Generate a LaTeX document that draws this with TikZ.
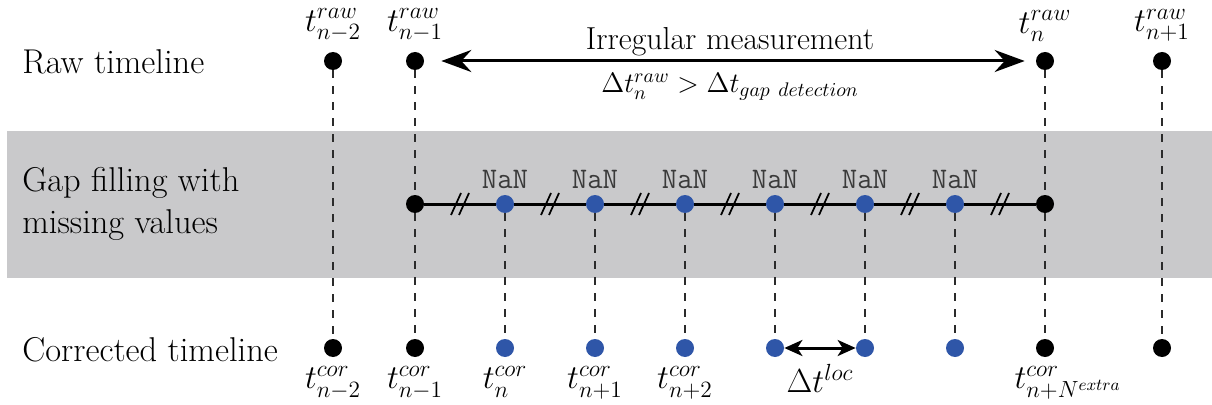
\RequirePackage{fix-cm}
\documentclass[tikz,border=0pt]{standalone}
\usetikzlibrary{arrows.meta,positioning,calc}
\definecolor{Band}{HTML}{C9C9CB}
\definecolor{NanBlue}{HTML}{2F56A8}
\definecolor{Dash}{HTML}{2B2B2B}
\definecolor{NanText}{HTML}{3A3A3A}
\tikzset{
  rowlabel/.style={anchor=west,align=left,inner sep=0,font=\fontsize{19.6}{23.5}\selectfont},
  tlabel/.style={inner sep=0,font=\fontsize{19}{23}\selectfont},
  nanlabel/.style={inner sep=0,text=NanText,font=\ttfamily\fontsize{17}{19}\selectfont},
  blackdot/.style={circle,fill=black,inner sep=0,minimum size=.36cm},
  bluedot/.style={circle,fill=NanBlue,inner sep=0,minimum size=.36cm},
  drop/.style={draw=Dash,line width=.04cm,dash pattern=on .16cm off .16cm},
  gapline/.style={draw=black,line width=.06cm},
  hashmark/.style={draw=black,line width=.035cm},
  measarrow/.style={{Stealth[length=6mm,width=4.4mm,inset=2mm]}-{Stealth[length=6mm,width=4.4mm,inset=2mm]},line width=.06cm},
  locarrow/.style={{Stealth[length=3.6mm,width=3.2mm,inset=1mm]}-{Stealth[length=3.6mm,width=3.2mm,inset=1mm]},line width=.06cm}
}
\begin{document}
\begin{tikzpicture}[x=.02cm,y=-.02cm]
  \useasboundingbox (0,0) rectangle (1212,405);
  \fill[Band] (7,131) rectangle (1212,278);

  % row titles
  \node[rowlabel] (rawtitle) at (22,62) {Raw timeline};
  \node[rowlabel] (gaptitle) at (22,204) {Gap filling with\\missing values};
  \node[rowlabel] (cortitle) at (22,350) {Corrected timeline};

  % raw timeline
  \node[blackdot] (ra) at (333,61) {};
  \node[blackdot] (rb) at (415,61) {};
  \node[blackdot] (rc) at (1045,61) {};
  \node[blackdot] (rd) at (1162,61) {};
  \node[tlabel,above=.2cm of ra] (tra) {$t^{raw}_{n-2}$};
  \node[tlabel,above=.2cm of rb] (trb) {$t^{raw}_{n-1}$};
  \node[tlabel,above=.2cm of rc] (trc) {$t^{raw}_{n}$};
  \node[tlabel,above=.2cm of rd] (trd) {$t^{raw}_{n+1}$};
  \draw[measarrow,shorten <=.34cm,shorten >=.22cm] (rb) --
    node[above=.07cm,font=\fontsize{18.1}{21}\selectfont,inner sep=0] (irr) {Irregular measurement}
    node[below=.22cm,font=\fontsize{16}{20}\selectfont,inner sep=0] (cond) {$\Delta t^{raw}_{n} > \Delta t_{gap\ detection}$} (rc);

  % gap filling
  \node[blackdot] (g0) at (415,204) {};
  \node[blackdot] (g7) at (1045,204) {};

  % corrected timeline
  \node[blackdot] (ka) at (333,348) {};
  \node[blackdot] (kb) at (415,348) {};
  \node[blackdot] (kc) at (1045,348) {};
  \node[blackdot] (kd) at (1162,348) {};
  \node[tlabel,below=.18cm of ka] (tka) {$t^{cor}_{n-2}$};
  \node[tlabel,below=.18cm of kb] (tkb) {$t^{cor}_{n-1}$};
  \node[tlabel,below=.18cm of kc,xshift=.46cm] (tkc) {$t^{cor}_{n+N^{extra}}$};

  \foreach \i in {1,...,6} {
    \node[bluedot] (g\i) at (415+90*\i,204) {};
    \node[bluedot] (k\i) at (415+90*\i,348) {};
    \node[nanlabel,above=.12cm of g\i] (nan\i) {NaN};
    \draw[drop] (g\i) -- (k\i);
  }
  \node[tlabel,below=.18cm of k1] (tk1) {$t^{cor}_{n}$};
  \node[tlabel,below=.18cm of k2] (tk2) {$t^{cor}_{n+1}$};
  \node[tlabel,below=.18cm of k3] (tk3) {$t^{cor}_{n+2}$};

  \draw[drop] (ra) -- (ka);
  \draw[drop] (rb) -- (g0);
  \draw[drop] (g0) -- (kb);
  \draw[drop] (rc) -- (g7);
  \draw[drop] (g7) -- (kc);
  \draw[drop] (rd) -- (kd);

  % gap line with breaks
  \foreach \i [count=\j from 0] in {1,...,7} {
    \draw[gapline] (g\j) -- (g\i);
    \draw[hashmark] ($(g\j)!.5!(g\i)$) ++(-4,0) +(-5,11) -- +(5,-11) ++(8,0) +(-5,11) -- +(5,-11);
  }

  \draw[locarrow] (k4) -- node[tlabel,below=.3cm] (dloc) {$\Delta t^{loc}$} (k5);
\end{tikzpicture}
\end{document}
